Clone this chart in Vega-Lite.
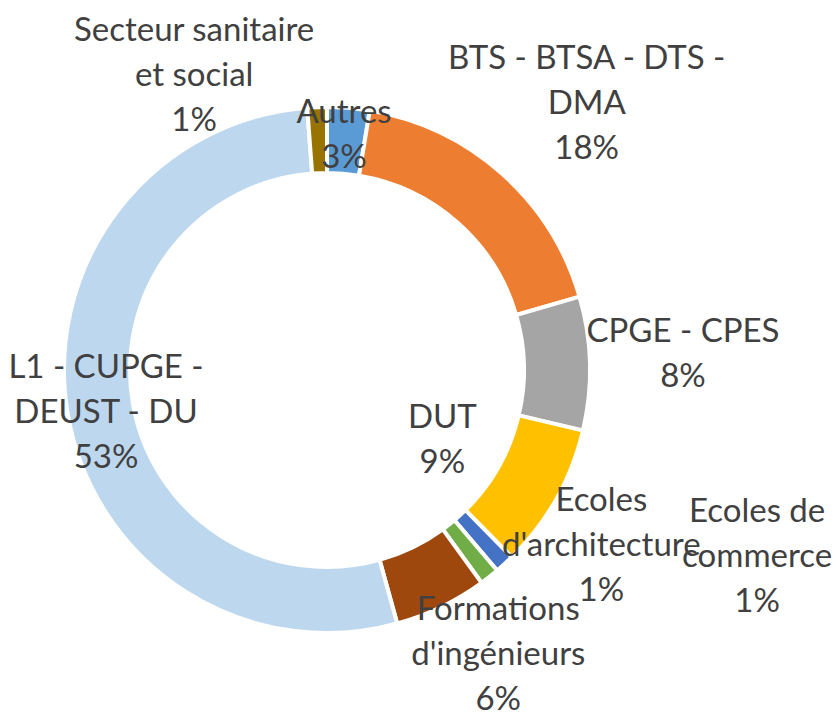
{
  "$schema": "https://vega.github.io/schema/vega-lite/v6.json",
  "width": 654,
  "height": 688,
  "autosize": {"type": "none"},
  "padding": {"left": 0, "top": 26, "right": 182, "bottom": 0},
  "background": "white",
  "config": {"view": {"stroke": null}},
  "data": {
    "values": [
      {"idx": 0, "cat": "Autres", "value": 2.6, "label": "Autres\n3%"},
      {"idx": 1, "cat": "BTS - BTSA - DTS - DMA", "value": 17.9, "label": "BTS - BTSA - DTS -\nDMA\n18%"},
      {"idx": 2, "cat": "CPGE - CPES", "value": 8.2, "label": "CPGE - CPES\n8%"},
      {"idx": 3, "cat": "DUT", "value": 8.9, "label": "DUT\n9%"},
      {"idx": 4, "cat": "Ecoles d'architecture", "value": 1.2, "label": "Ecoles\nd'architecture\n1%"},
      {"idx": 5, "cat": "Ecoles de commerce", "value": 1.2, "label": "Ecoles de\ncommerce\n1%"},
      {"idx": 6, "cat": "Formations d'ingénieurs", "value": 5.7, "label": "Formations\nd'ingénieurs\n6%"},
      {"idx": 7, "cat": "L1 - CUPGE - DEUST - DU", "value": 53.1, "label": "L1 - CUPGE -\nDEUST - DU\n53%"},
      {"idx": 8, "cat": "Secteur sanitaire et social", "value": 1.2, "label": "Secteur sanitaire\net social\n1%"}
    ]
  },
  "encoding": {
    "theta": {"field": "value", "type": "quantitative", "stack": true},
    "order": {"field": "idx", "type": "quantitative"}
  },
  "layer": [
    {
      "mark": {"type": "arc", "outerRadius": 263, "innerRadius": 197, "stroke": "white", "strokeWidth": 4},
      "encoding": {
        "color": {
          "field": "cat",
          "type": "nominal",
          "legend": null,
          "scale": {
            "domain": ["Autres", "BTS - BTSA - DTS - DMA", "CPGE - CPES", "DUT", "Ecoles d'architecture", "Ecoles de commerce", "Formations d'ingénieurs", "L1 - CUPGE - DEUST - DU", "Secteur sanitaire et social"],
            "range": ["#5B9BD5", "#ED7D31", "#A5A5A5", "#FFC000", "#4472C4", "#70AD47", "#9E480E", "#BDD7EE", "#997300"]
          }
        }
      }
    },
    {
      "mark": {
        "type": "text",
        "font": "Lato",
        "fontSize": 33,
        "lineHeight": 45,
        "lineBreak": "\n",
        "color": "#404040",
        "align": "center",
        "baseline": "middle",
        "radius": {"expr": "[258, 405, 358, 125, 304, 453, 295, 221, 364][datum.idx]"},
        "thetaOffset": {"expr": "[-0.0157, -0.0297, -0.0812, -0.1169, -0.3840, -0.5856, -0.1702, 0.1798, -0.3360][datum.idx]"}
      },
      "encoding": {
        "text": {"field": "label", "type": "nominal"}
      }
    }
  ]
}
